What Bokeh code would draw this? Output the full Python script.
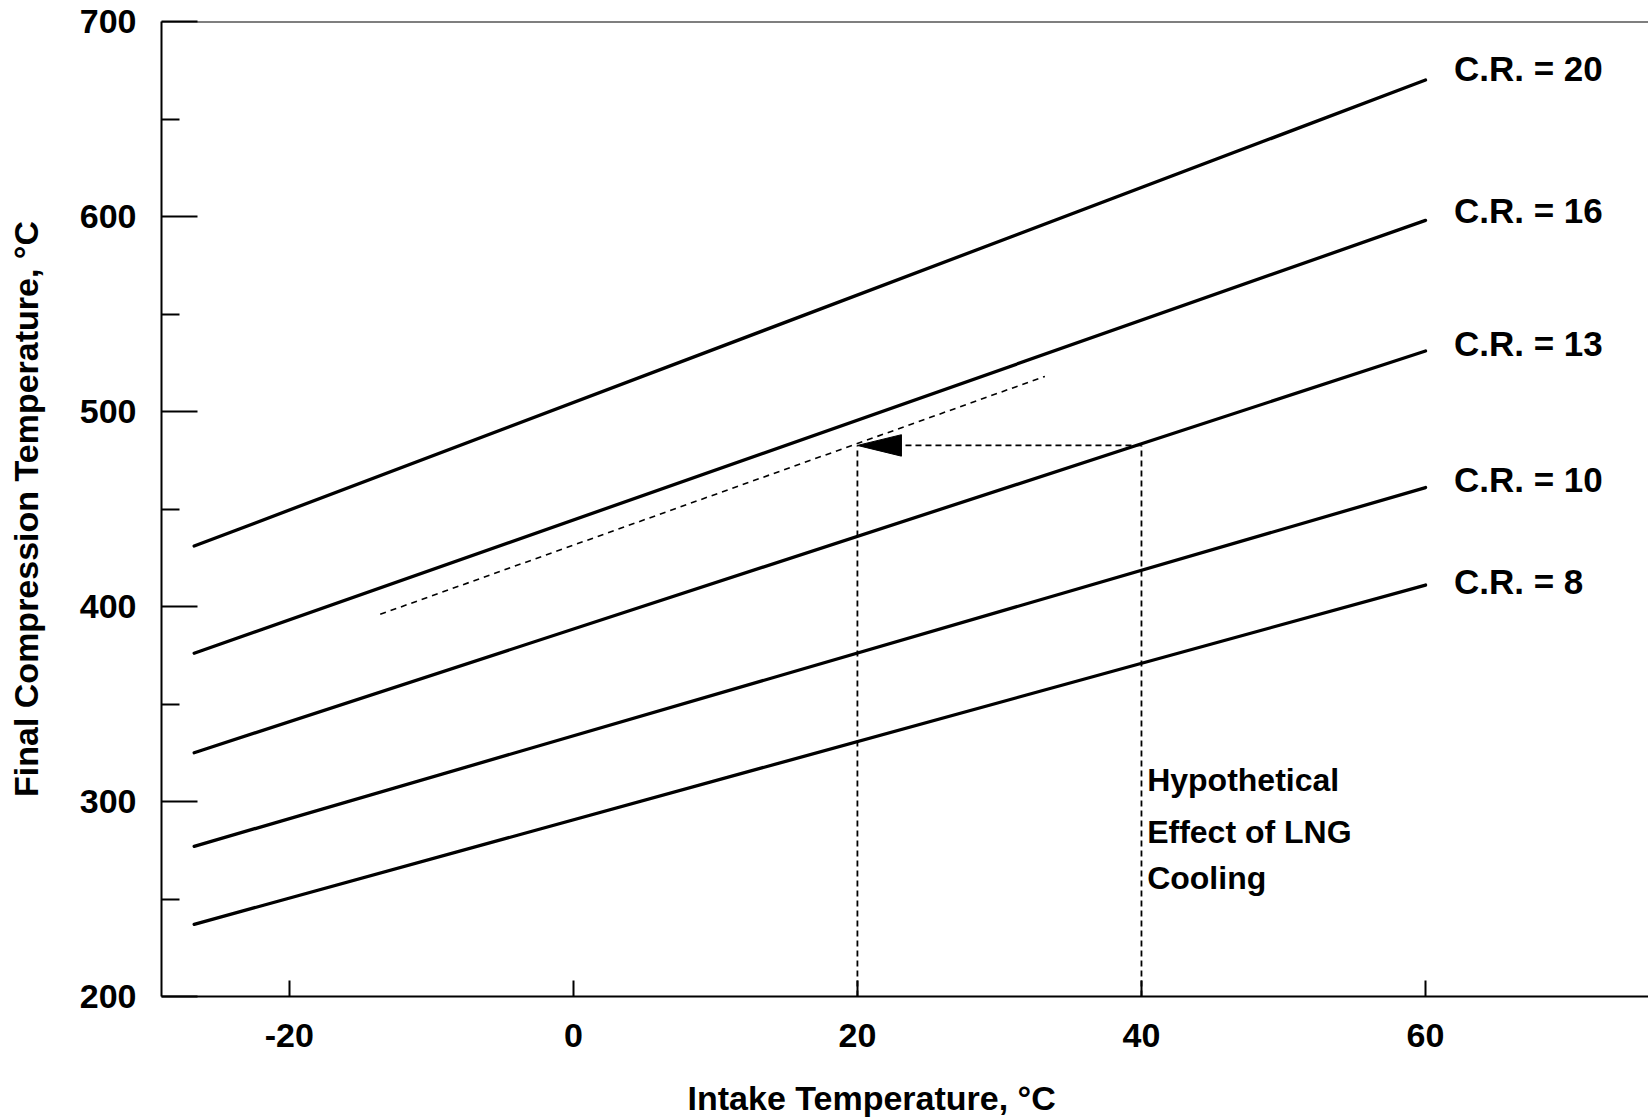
from bokeh.plotting import figure
from bokeh.layouts import column
from bokeh.models import Range1d, FixedTicker, Span
from bokeh.core.properties import value
from bokeh.embed import file_html
from bokeh.resources import INLINE

# ---- data ----
intake_x = [-26.7, 60.0]
cr_names = ["C.R. = 20", "C.R. = 16", "C.R. = 13", "C.R. = 10", "C.R. = 8"]
cr20 = [431, 670]
cr16 = [376, 598]
cr13 = [325, 531]
cr10 = [277, 461]
cr8 = [237, 411]
cr_label_x = [62.0, 62.0, 62.0, 62.0, 62.0]
cr_label_y = [676, 603, 535, 465, 413]

x_ticks = [-20, 0, 20, 40, 60]
x_tick_labels = ["-20", "0", "20", "40", "60"]
y_ticks = [200, 300, 400, 500, 600, 700]
y_tick_labels = ["200", "300", "400", "500", "600", "700"]
y_minor = [250, 350, 450, 550, 650]

# hypothetical LNG cooling construction
cool_from_x = 40
cool_to_x = 20
cool_level = 482.6
cool_base = 200
shift_x = [-13.6, 33.2]
shift_y = [396, 518]
note_lines = ["Hypothetical", "Effect of LNG", "Cooling"]
note_x = [40.4, 40.4, 40.4]
note_y = [311, 284.5, 261]

x_title = "Intake Temperature, \u00b0C"
x_title_at = 21.0   # x-axis title is centred near 21 on the intake scale
y_title = "Final Compression Temperature, \u00b0C"

FONT = "Liberation Sans"
W = 1648
MAIN_H = 1070
TITLE_H = 49

xr = Range1d(-29, 75.7)
p = figure(width=W, height=MAIN_H,
           x_range=xr, y_range=Range1d(200, 700),
           output_backend="svg", toolbar_location=None,
           min_border_left=161, min_border_right=0,
           min_border_top=21, min_border_bottom=MAIN_H - 996)
p.grid.visible = False
p.outline_line_color = None
p.background_fill_color = "white"
p.border_fill_color = "white"

# axes
for ax in (p.xaxis[0], p.yaxis[0]):
    ax.axis_line_width = 2
    ax.axis_line_color = "black"
    ax.major_tick_line_width = 2
    ax.major_tick_line_color = "black"
    ax.minor_tick_line_width = 2
    ax.minor_tick_line_color = "black"
    ax.major_tick_out = 0
    ax.minor_tick_out = 0
    ax.major_label_text_font = FONT
    ax.major_label_text_font_size = "34px"
    ax.major_label_text_font_style = "bold"
    ax.major_label_text_color = "black"
    ax.axis_label_text_font = FONT
    ax.axis_label_text_font_size = "34px"
    ax.axis_label_text_font_style = "bold"
    ax.axis_label_text_color = "black"

p.xaxis.ticker = FixedTicker(ticks=x_ticks, minor_ticks=[])
p.xaxis.major_label_overrides = dict(zip(x_ticks, x_tick_labels))
p.xaxis.major_tick_in = 16
p.xaxis.major_label_standoff = 27

p.yaxis.ticker = FixedTicker(ticks=y_ticks, minor_ticks=y_minor)
p.yaxis.major_label_overrides = dict(zip(y_ticks, y_tick_labels))
p.yaxis.major_tick_in = 36
p.yaxis.minor_tick_in = 18
p.yaxis.major_label_standoff = 25
p.yaxis.axis_label = y_title
p.yaxis.axis_label_standoff = 32

# top border line
p.add_layout(Span(location=700, dimension="width", line_color="black", line_width=2))

# compression ratio lines
for ys in (cr20, cr16, cr13, cr10, cr8):
    p.line(intake_x, ys, line_color="black", line_width=3.3, line_cap="round")

p.text(x=cr_label_x, y=cr_label_y, text=cr_names, text_font=value(FONT),
       text_font_size="35px", text_font_style="bold", text_baseline="middle",
       text_align="left", text_color="black")

# cooling construction
p.line([cool_to_x, cool_to_x], [cool_base, cool_level], line_color="black",
       line_width=1.8, line_dash="6 4")
p.line([cool_from_x, cool_from_x], [cool_base, cool_level], line_color="black",
       line_width=1.8, line_dash="6 4")
head_len = 3.1
head_half = 5.5
p.line([cool_from_x, cool_to_x + head_len], [cool_level, cool_level], line_color="black",
       line_width=1.8, line_dash="6 4")
p.patch([cool_to_x, cool_to_x + head_len, cool_to_x + head_len],
        [cool_level, cool_level + head_half, cool_level - head_half],
        fill_color="black", line_color="black", line_width=1)
p.line(shift_x, shift_y, line_color="black", line_width=1.6, line_dash="6 5")

p.text(x=note_x, y=note_y, text=note_lines, text_font=value(FONT),
       text_font_size="32px", text_font_style="bold", text_baseline="middle",
       text_align="left", text_color="black")

# strip below the chart carrying the x-axis title (left of centre, as in the reference)
t = figure(width=W, height=TITLE_H, x_range=xr, y_range=Range1d(0, 1),
           output_backend="svg", toolbar_location=None,
           x_axis_type=None, y_axis_type=None,
           min_border_left=161, min_border_right=0, min_border_top=0, min_border_bottom=0)
t.grid.visible = False
t.outline_line_color = None
t.background_fill_color = "white"
t.border_fill_color = "white"
t.text(x=[x_title_at], y=[0.43], text=[x_title], text_font=value(FONT),
       text_font_size="34px", text_font_style="bold", text_baseline="middle",
       text_align="center", text_color="black")

layout = column(p, t, spacing=0)
open("out.html", "w").write(file_html(layout, INLINE))
